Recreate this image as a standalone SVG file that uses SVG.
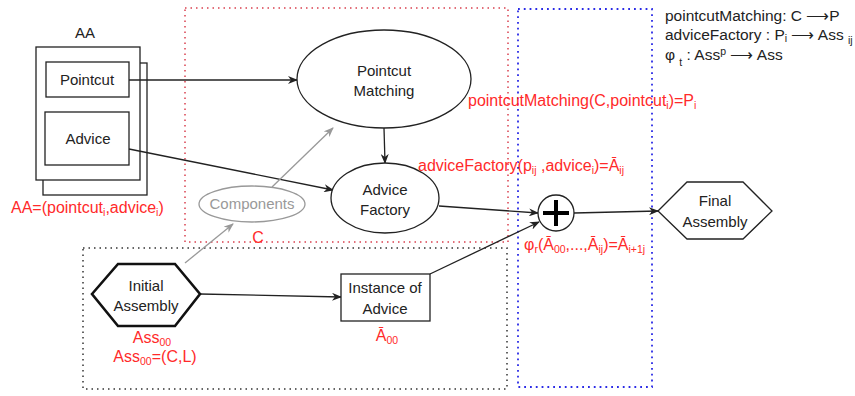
<svg xmlns="http://www.w3.org/2000/svg" width="855" height="396" viewBox="0 0 855 396">
<style>
text{font-family:"Liberation Sans",Arial,sans-serif;font-size:15px;fill:#222}
.red{fill:#ff2a2a;font-size:16px}
.sub{font-size:10.5px}
.note{font-size:15.5px;fill:#222}
.node{fill:#fff;stroke:#222;stroke-width:1.3}
.conn{fill:none;stroke:#222;stroke-width:1.3;marker-end:url(#ah)}
.gconn{fill:none;stroke:#999;stroke-width:1.3;marker-end:url(#ahg)}
.mid{text-anchor:middle}
</style>
<defs>
<marker id="ah" markerWidth="10" markerHeight="8" refX="9" refY="4" orient="auto" markerUnits="userSpaceOnUse"><path d="M0,0 L10,4 L0,8 L3,4 Z" fill="#222"/></marker>
<marker id="ahg" markerWidth="10" markerHeight="8" refX="9" refY="4" orient="auto" markerUnits="userSpaceOnUse"><path d="M0,0 L10,4 L0,8 L3,4 Z" fill="#999"/></marker>
</defs>
<rect width="855" height="396" fill="#fff"/>
<g id="regions">
<rect x="185" y="8" width="323" height="234" fill="none" stroke="#d9404f" stroke-width="1.5" stroke-dasharray="1.5 4"/>
<rect x="518" y="9" width="134" height="378" fill="none" stroke="#2a2ae6" stroke-width="1.8" stroke-dasharray="1.8 4"/>
<rect x="83" y="248" width="424" height="141" fill="none" stroke="#333" stroke-width="1.5" stroke-dasharray="1.5 4"/>
</g>
<g id="AA">
<text x="85" y="38" class="mid">AA</text>
<rect x="43" y="63" width="104" height="132" class="node"/>
<rect x="36" y="47" width="104" height="133" class="node"/>
</g>
<g id="pointcut">
<rect x="46" y="62" width="83" height="35" class="node"/>
<text x="87" y="85" class="mid">Pointcut</text>
</g>
<g id="advice">
<rect x="45" y="112" width="84" height="53" class="node"/>
<text x="88" y="144" class="mid">Advice</text>
</g>
<text x="11" y="213" class="red">AA=(pointcut<tspan class="sub" dy="3">i</tspan><tspan dy="-3">,advice</tspan><tspan class="sub" dy="3">i</tspan><tspan dy="-3">)</tspan></text>
<g id="connectors">
<path d="M129,80 L297,80" class="conn"/>
<path d="M129,149 L333,190" class="conn"/>
<path d="M384,128 L385,163" class="conn"/>
<path d="M272,187 L333,128" class="gconn"/>
<path d="M185,263 L233,224" class="gconn"/>
<path d="M200,294 L341,297" class="conn"/>
<path d="M439,206 L538,213" class="conn"/>
<path d="M430,274 L539,222" class="conn"/>
<path d="M574,213 L658,211" class="conn"/>
</g>
<g id="pointcutMatching">
<ellipse cx="384" cy="79" rx="87" ry="49" class="node"/>
<text x="384" y="76" class="mid">Pointcut</text>
<text x="384" y="96" class="mid">Matching</text>
</g>
<g id="adviceFactory">
<ellipse cx="385" cy="198" rx="54" ry="35" class="node"/>
<text x="385" y="195" class="mid">Advice</text>
<text x="385" y="215" class="mid">Factory</text>
</g>
<g id="components">
<ellipse cx="252" cy="204" rx="53" ry="18" fill="#fff" stroke="#999" stroke-width="1.3"/>
<text x="252" y="209" class="mid" style="fill:#999">Components</text>
</g>
<text x="258" y="243" class="red mid">C</text>
<g id="plus">
<circle cx="556" cy="213" r="18" class="node"/>
<path d="M543,213 H569 M556,200 V226" stroke="#000" stroke-width="4"/>
</g>
<g id="finalAssembly">
<polygon points="658,211 687,182 743,182 772,211 743,239 687,239" class="node"/>
<text x="715" y="206" class="mid">Final</text>
<text x="715" y="227" class="mid">Assembly</text>
</g>
<g id="initialAssembly">
<polygon points="92,294 118,264 175,264 200,294 175,326 118,326" fill="#fff" stroke="#111" stroke-width="2.6"/>
<text x="146" y="291" class="mid">Initial</text>
<text x="146" y="311" class="mid">Assembly</text>
</g>
<text x="152" y="343" class="red mid">Ass<tspan class="sub" dy="3">00</tspan></text>
<text x="155" y="362" class="red mid">Ass<tspan class="sub" dy="3">00</tspan><tspan dy="-3">=(C,L)</tspan></text>
<g id="instanceOfAdvice">
<rect x="341" y="274" width="89" height="47" class="node"/>
<text x="385" y="293" class="mid">Instance of</text>
<text x="385" y="314" class="mid">Advice</text>
</g>
<text x="387" y="341" class="red mid">Ā<tspan class="sub" dy="3">00</tspan></text>
<text x="468" y="106" class="red">pointcutMatching(C,pointcut<tspan class="sub" dy="3">i</tspan><tspan dy="-3">)=P</tspan><tspan class="sub" dy="3">i</tspan></text>
<text x="418" y="171" class="red">adviceFactory(p<tspan class="sub" dy="3">ij</tspan><tspan dy="-3"> ,advice</tspan><tspan class="sub" dy="3">i</tspan><tspan dy="-3">)=Ā</tspan><tspan class="sub" dy="3">ij</tspan></text>
<text x="524" y="250" class="red">φ<tspan class="sub" dy="3">r</tspan><tspan dy="-3">(Ā</tspan><tspan class="sub" dy="3">00</tspan><tspan dy="-3">,...,Ā</tspan><tspan class="sub" dy="3">ij</tspan><tspan dy="-3">)=Ā</tspan><tspan class="sub" dy="3">i+1j</tspan></text>
<text x="665" y="21" class="note">pointcutMatching: C ⟶P</text>
<text x="665" y="40" class="note">adviceFactory : P<tspan class="sub" dy="2">i</tspan><tspan dy="-2"> ⟶ Ass </tspan><tspan class="sub" dy="4">ij</tspan></text>
<text x="665" y="60" class="note">φ <tspan class="sub" dy="6">t</tspan><tspan dy="-6"> : Ass</tspan><tspan class="sub" dy="-5">p</tspan><tspan dy="5"> ⟶ Ass</tspan></text>
</svg>
